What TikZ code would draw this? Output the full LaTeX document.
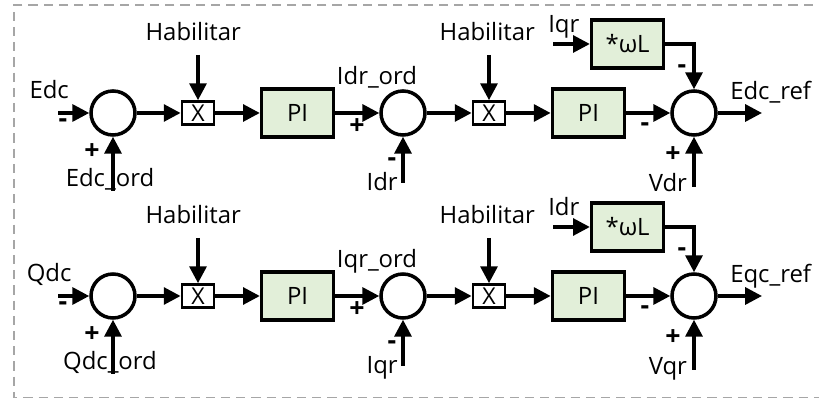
\documentclass[tikz,border=0pt]{standalone}
\usepackage{fontspec}
\setmainfont{Open Sans}
\usepackage{tikz}
\usetikzlibrary{arrows.meta}
\usetikzlibrary{positioning}
\definecolor{verdepi}{RGB}{226,239,217}
\newcommand{\letra}{\fontsize{17}{20}\selectfont}
\tikzset{
	suma/.style={circle, draw, line width=2.5pt, minimum size=1.1cm, inner sep=0pt},
	bloque/.style={rectangle, draw, line width=2.5pt, fill=verdepi, minimum width=1.8cm, minimum height=1.2cm},
	mult/.style={rectangle, draw, line width=2pt, fill=white, minimum width=0.8cm, minimum height=0.57cm, inner sep=0pt, font=\fontsize{16.5}{19}\selectfont},
	flecha/.style={line width=2.5pt, -{Triangle[length=0.42cm, width=0.42cm]}},
	texto/.style={inner sep=0pt},
	signo/.style={inner sep=0pt, font=\fontsize{19}{22}\selectfont\bfseries},
	marco/.style={draw=black!35, line width=1.1pt, dash pattern=on 0.23cm off 0.15cm}
}
\newcommand{\lazo}[7]{
					\node[suma] (s1) at (2.825,0) {};
					\node[mult] (m1) at (4.95,0) {X};
					\node[bloque] (pi1) at (7.44,0) {PI};
					\node[suma] (s2) at (10.075,0) {};
					\node[mult] (m2) at (12.225,0) {X};
					\node[bloque] (pi2) at (14.71,0) {PI};
					\node[bloque] (wl) at (15.69,1.725) {*ωL};
					\node[suma] (s3) at (17.35,0) {};
					\coordinate (ent) at (1.45,0);
					\coordinate (ord) at (2.825,-1.95);
					\coordinate (hab1) at (4.95,1.45);
					\coordinate (hab2) at (12.225,1.45);
					\coordinate (fb) at (10.075,-1.75);
					\coordinate (cruz) at (13.83,1.725);
					\coordinate (vol) at (17.35,-1.85);
					\coordinate (sal) at (19.05,0);
					
					\node[texto, anchor=base] (tent) at (1.23,0.35) {#1};
					\node[texto, anchor=base] (tord) at (2.75,-1.85) {#2};
					\node[texto, anchor=base] (thab1) at (4.83,1.8) {Habilitar};
					\node[texto, anchor=base] (tmed) at (9.425,0.7) {#3};
					\node[texto, anchor=base east] (tfb) at (9.95,-1.95) {#4};
					\node[texto, anchor=base] (thab2) at (12.18,1.8) {Habilitar};
					\node[texto, anchor=base west] (tcruz) at (13.7,2.0) {#5};
					\node[texto, anchor=base east] (tvol) at (17.18,-1.97) {#6};
					\node[texto, anchor=base west] (tsal) at (18.25,0.33) {#7};
					
					\node[signo] (n1) at (1.575,-0.25) {-};
					\node[signo] (p1) at (2.3,-0.975) {+};
					\node[signo] (p2) at (8.925,-0.35) {+};
					\node[signo] (n2) at (9.8,-1.22) {-};
					\node[signo] (n3) at (17.05,1.1) {-};
					\node[signo] (n4) at (16.125,-0.35) {-};
					\node[signo] (p3) at (16.825,-1.05) {+};
					
					\draw[flecha] (ent) -- (s1);
					\draw[flecha] (ord) -- (s1);
					\draw[flecha] (s1) -- (m1);
					\draw[flecha] (hab1) -- (m1);
					\draw[flecha] (m1) -- (pi1);
					\draw[flecha] (pi1) -- (s2);
					\draw[flecha] (fb) -- (s2);
					\draw[flecha] (s2) -- (m2);
					\draw[flecha] (hab2) -- (m2);
					\draw[flecha] (m2) -- (pi2);
					\draw[flecha] (pi2) -- (s3);
					\draw[flecha] (cruz) -- (wl);
					\draw[flecha] (wl.east) -| (s3.north);
					\draw[flecha] (vol) -- (s3);
					\draw[flecha] (s3) -- (sal);
}

\begin{document}
\begin{tikzpicture}[font=\letra]
				\useasboundingbox (0,0) rectangle (20.475,10);
				%\draw[help lines] (0,0) grid (20,10);
				\draw[marco] (20.7,9.875) -- (0.35,9.875) -- (0.35,0.06) -- (20.7,0.06);
				
				\begin{scope}[yshift=7.175cm, name prefix=d-]
					\lazo{Edc}{Edc\_ord}{Idr\_ord}{Idr}{Iqr}{Vdr}{Edc\_ref}
				\end{scope}
				
				\begin{scope}[yshift=2.6cm, name prefix=q-]
					\lazo{Qdc}{Qdc\_ord}{Iqr\_ord}{Iqr}{Idr}{Vqr}{Eqc\_ref}
				\end{scope}
				
\end{tikzpicture}
\end{document}
